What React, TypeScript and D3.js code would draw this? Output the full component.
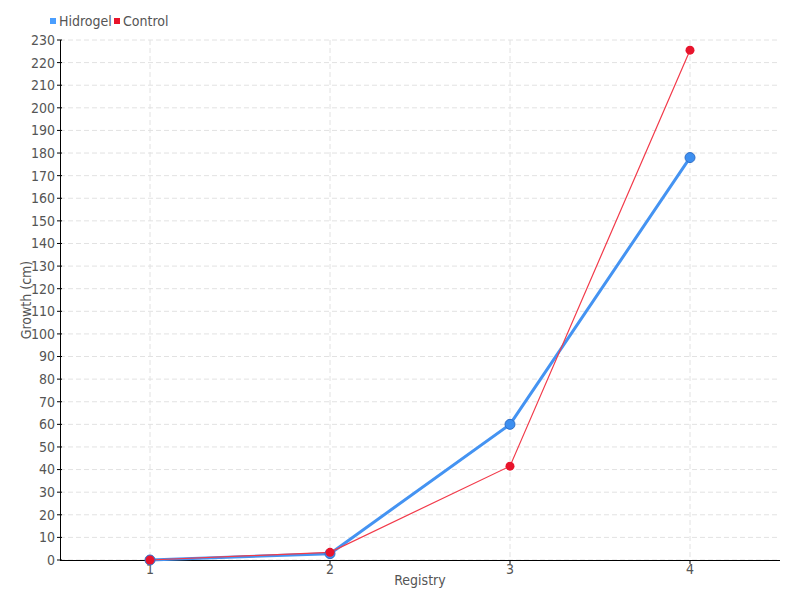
import React from "react";
import * as d3 from "d3";

const categories = ["1", "2", "3", "4"];
const hidrogel = [0, 2.8, 60, 178];
const control = [0, 3.4, 41.5, 225.5];
const yTicks = d3.range(0, 231, 10);

const W = 800, H = 600;
const left = 60, right = 780, top = 40, bottom = 560;
const FONT = "'DejaVu Sans Condensed', 'DejaVu Sans', sans-serif";
const TXT = "#555";

export default function App() {
  const x = d3.scalePoint<string>().domain(categories).range([left, right]).padding(0.5);
  const y = d3.scaleLinear().domain([0, 230]).range([bottom, top]);
  const line = d3.line<number>().x((_, i) => x(categories[i])!).y((d) => y(d));

  return (
    <svg width={W} height={H} style={{ position: "absolute", left: 0, top: 0 }} fontFamily={FONT}>
      <rect width={W} height={H} fill="#fff" />
      {yTicks.map((t) => (
        <line key={"g" + t} x1={left} x2={right} y1={y(t)} y2={y(t)} stroke="#e2e2e2" strokeDasharray="5,3" />
      ))}
      {categories.map((c) => (
        <line key={"v" + c} x1={x(c)} x2={x(c)} y1={top} y2={bottom} stroke="#e2e2e2" strokeDasharray="5,3" />
      ))}
      <line x1={left + 0.5} x2={left + 0.5} y1={top} y2={bottom} stroke="#000" strokeWidth={1} />
      <line x1={left} x2={right} y1={bottom + 0.5} y2={bottom + 0.5} stroke="#000" strokeWidth={1} />
      {yTicks.map((t) => (
        <g key={"yt" + t}>
          <line x1={left - 3} x2={left + 2} y1={y(t)} y2={y(t)} stroke="#000" />
          <text x={left - 5} y={y(t)} dy="0.35em" textAnchor="end" fontSize={14} fill={TXT}>{t}</text>
        </g>
      ))}
      {categories.map((c) => (
        <g key={"xt" + c}>
          <line x1={x(c)} x2={x(c)} y1={bottom} y2={bottom + 4} stroke="#000" />
          <text x={x(c)} y={bottom + 14} textAnchor="middle" fontSize={14} fill={TXT}>{c}</text>
        </g>
      ))}
      <text x={420} y={585} textAnchor="middle" fontSize={14} fill={TXT}>Registry</text>
      <text transform={`translate(31,${300}) rotate(-90)`} textAnchor="middle" fontSize={14} fill={TXT}>Growth (cm)</text>
      <path d={line(hidrogel)!} fill="none" stroke="#4493f2" strokeWidth={3} strokeLinejoin="round" />
      <path d={line(control)!} fill="none" stroke="#f23a4a" strokeWidth={1.2} />
      {hidrogel.map((v, i) => (
        <circle key={"h" + i} cx={x(categories[i])} cy={y(v)} r={5} fill="#3d8ff0" stroke="#2f6fc8" strokeWidth={1} />
      ))}
      {control.map((v, i) => (
        <circle key={"c" + i} cx={x(categories[i])} cy={y(v)} r={4.5} fill="#e8142c" />
      ))}
      <rect x={50} y={18} width={6} height={6} fill="#4a9eff" />
      <text x={59} y={21} dy="0.35em" fontSize={14} fill={TXT}>Hidrogel</text>
      <rect x={114} y={18} width={6} height={6} fill="#e8132a" />
      <text x={123} y={21} dy="0.35em" fontSize={14} fill={TXT}>Control</text>
    </svg>
  );
}
